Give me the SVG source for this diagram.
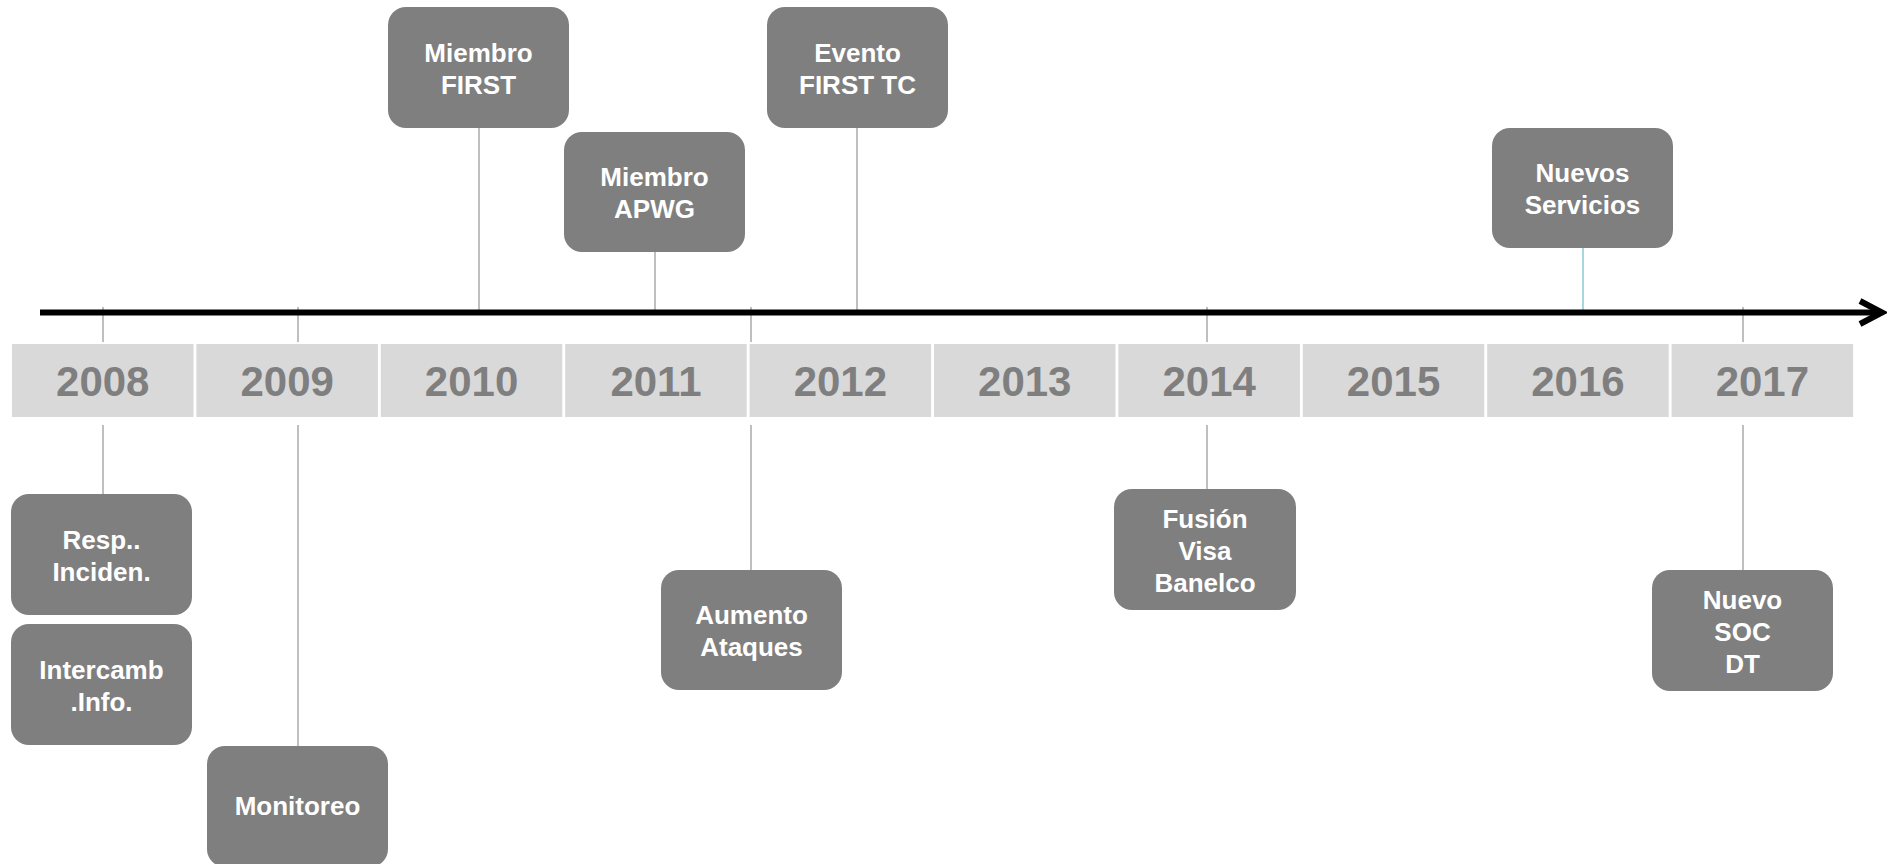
<svg xmlns="http://www.w3.org/2000/svg" width="1887" height="864" viewBox="0 0 1887 864">
<style>
.node rect{fill:#7f7f7f}
.node text{font-family:"Liberation Sans",Arial,sans-serif;font-weight:bold;font-size:26px;fill:#ffffff;text-anchor:middle}
.year rect{fill:#d9d9d9}
.year text{font-family:"Liberation Sans",Arial,sans-serif;font-weight:bold;font-size:42px;fill:#7f7f7f;text-anchor:middle}
.conn line{stroke:#bfbfbf;stroke-width:2}
.conn line.blue{stroke:#a9d6df}
</style>
<rect width="1887" height="864" fill="#ffffff"/>
<g id="years">
<g class="year" id="y2008"><rect x="12" y="344" width="181.5" height="73"/><text x="102.75" y="396">2008</text></g>
<g class="year" id="y2009"><rect x="196.4" y="344" width="181.5" height="73"/><text x="287.15" y="396">2009</text></g>
<g class="year" id="y2010"><rect x="380.8" y="344" width="181.5" height="73"/><text x="471.55" y="396">2010</text></g>
<g class="year" id="y2011"><rect x="565.2" y="344" width="181.5" height="73"/><text x="655.95" y="396">2011</text></g>
<g class="year" id="y2012"><rect x="749.6" y="344" width="181.5" height="73"/><text x="840.35" y="396">2012</text></g>
<g class="year" id="y2013"><rect x="934" y="344" width="181.5" height="73"/><text x="1024.75" y="396">2013</text></g>
<g class="year" id="y2014"><rect x="1118.4" y="344" width="181.5" height="73"/><text x="1209.15" y="396">2014</text></g>
<g class="year" id="y2015"><rect x="1302.8" y="344" width="181.5" height="73"/><text x="1393.55" y="396">2015</text></g>
<g class="year" id="y2016"><rect x="1487.2" y="344" width="181.5" height="73"/><text x="1577.95" y="396">2016</text></g>
<g class="year" id="y2017"><rect x="1671.6" y="344" width="181.5" height="73"/><text x="1762.35" y="396">2017</text></g>
</g>
<g id="connectors" class="conn">
<line x1="103" y1="307" x2="103" y2="342"/>
<line x1="298" y1="307" x2="298" y2="342"/>
<line x1="751" y1="307" x2="751" y2="342"/>
<line x1="1207" y1="307" x2="1207" y2="342"/>
<line x1="1743" y1="307" x2="1743" y2="342"/>
<line x1="479" y1="128" x2="479" y2="312"/>
<line x1="655" y1="252" x2="655" y2="312"/>
<line x1="857" y1="128" x2="857" y2="312"/>
<line class="blue" x1="1583" y1="248" x2="1583" y2="312"/>
<line x1="103" y1="425" x2="103" y2="494"/>
<line x1="298" y1="425" x2="298" y2="746"/>
<line x1="751" y1="425" x2="751" y2="570"/>
<line x1="1207" y1="425" x2="1207" y2="489"/>
<line x1="1743" y1="425" x2="1743" y2="570"/>
</g>
<g id="axis">
<line x1="40" y1="312.5" x2="1880" y2="312.5" stroke="#000" stroke-width="6"/>
<polyline points="1860,301 1882,312.5 1860,324" fill="none" stroke="#000" stroke-width="6" stroke-linejoin="miter"/>
</g>
<g id="n-first" class="node"><rect x="388" y="7" width="181" height="121" rx="18"/><text x="478.5" y="62">Miembro<tspan x="478.5" dy="32">FIRST</tspan></text></g>
<g id="n-apwg" class="node"><rect x="564" y="132" width="181" height="120" rx="18"/><text x="654.5" y="186">Miembro<tspan x="654.5" dy="32">APWG</tspan></text></g>
<g id="n-evento" class="node"><rect x="767" y="7" width="181" height="121" rx="18"/><text x="857.5" y="62">Evento<tspan x="857.5" dy="32">FIRST TC</tspan></text></g>
<g id="n-nuevos" class="node"><rect x="1492" y="128" width="181" height="120" rx="18"/><text x="1582.5" y="182">Nuevos<tspan x="1582.5" dy="32">Servicios</tspan></text></g>
<g id="n-resp" class="node"><rect x="11" y="494" width="181" height="121" rx="18"/><text x="101.5" y="549">Resp..<tspan x="101.5" dy="32">Inciden.</tspan></text></g>
<g id="n-intercamb" class="node"><rect x="11" y="624" width="181" height="121" rx="18"/><text x="101.5" y="679">Intercamb<tspan x="101.5" dy="32">.Info.</tspan></text></g>
<g id="n-monitoreo" class="node"><rect x="207" y="746" width="181" height="121" rx="18"/><text x="297.5" y="815">Monitoreo</text></g>
<g id="n-aumento" class="node"><rect x="661" y="570" width="181" height="120" rx="18"/><text x="751.5" y="624">Aumento<tspan x="751.5" dy="32">Ataques</tspan></text></g>
<g id="n-fusion" class="node"><rect x="1114" y="489" width="182" height="121" rx="18"/><text x="1205" y="528">Fusión<tspan x="1205" dy="32">Visa</tspan><tspan x="1205" dy="32">Banelco</tspan></text></g>
<g id="n-soc" class="node"><rect x="1652" y="570" width="181" height="121" rx="18"/><text x="1742.5" y="609">Nuevo<tspan x="1742.5" dy="32">SOC</tspan><tspan x="1742.5" dy="32">DT</tspan></text></g>
</svg>
